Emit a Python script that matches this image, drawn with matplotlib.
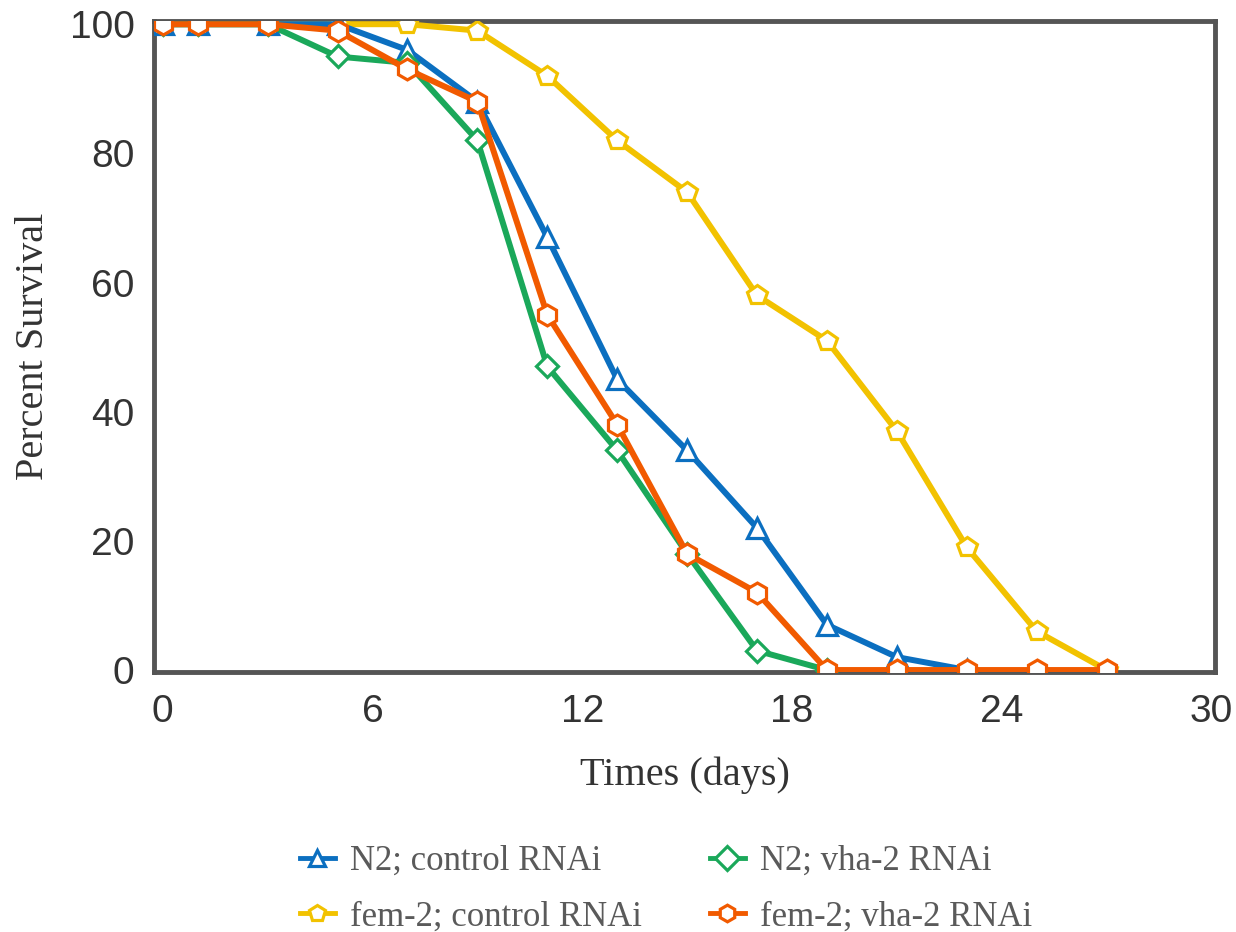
import matplotlib
matplotlib.use("Agg")
import matplotlib.pyplot as plt

# Survival data (percent alive) by day
days_n2_ctrl = [0, 1, 3, 5, 7, 9, 11, 13, 15, 17, 19, 21, 23]
n2_ctrl = [100, 100, 100, 100, 96, 88, 67, 45, 34, 22, 7, 2, 0]

days_n2_vha = [0, 1, 3, 5, 7, 9, 11, 13, 15, 17, 19]
n2_vha = [100, 100, 100, 95, 94, 82, 47, 34, 18, 3, 0]

days_fem_ctrl = [0, 1, 3, 5, 7, 9, 11, 13, 15, 17, 19, 21, 23, 25, 27]
fem_ctrl = [100, 100, 100, 100, 100, 99, 92, 82, 74, 58, 51, 37, 19, 6, 0]

days_fem_vha = [0, 1, 3, 5, 7, 9, 11, 13, 15, 17, 19, 21, 23, 25, 27]
fem_vha = [100, 100, 100, 99, 93, 88, 55, 38, 18, 12, 0, 0, 0, 0, 0]

labels = ["N2; control RNAi", "N2; vha-2 RNAi",
          "fem-2; control RNAi", "fem-2; vha-2 RNAi"]
x_ticks = [0, 6, 12, 18, 24, 30]
y_ticks = [0, 20, 40, 60, 80, 100]

BLUE = "#0b6fc0"
GREEN = "#1aa85a"
YELLOW = "#f2c200"
ORANGE = "#f15a00"

fig = plt.figure(figsize=(12.36, 9.32), dpi=100)
ax = fig.add_axes([0.1246, 0.279, 0.8584, 0.6985])

lw = 4.3
mew = 2.3
common = dict(lw=lw, mew=mew, mfc="white")

ax.plot(days_fem_ctrl, fem_ctrl, color=YELLOW, marker="p", ms=15, label=labels[2], zorder=3, **common)
ax.plot(days_n2_ctrl, n2_ctrl, color=BLUE, marker="^", ms=14, label=labels[0], zorder=4, **common)
ax.plot(days_n2_vha, n2_vha, color=GREEN, marker="D", ms=11, label=labels[1], zorder=5, **common)
ax.plot(days_fem_vha, fem_vha, color=ORANGE, marker="h", ms=15, label=labels[3], zorder=6, **common)

ax.set_xlim(-0.25, 30.1)
ax.set_ylim(-0.3, 100.5)
ax.set_xticks(x_ticks)
ax.set_yticks(y_ticks)
ax.tick_params(length=0, labelsize=28, colors="#333333")
ax.tick_params(axis="x", pad=16)
ax.tick_params(axis="y", pad=14)
for lab in ax.get_xticklabels() + ax.get_yticklabels():
    lab.set_family("Liberation Sans")

for s in ax.spines.values():
    s.set_color("#555555")
    s.set_linewidth(3.5)
    s.set_zorder(2)

ax.set_xlabel("Times (days)", family="Liberation Serif", fontsize=29,
              color="#333333", labelpad=19)
ax.set_ylabel("Percent Survival", family="Liberation Serif", fontsize=29,
              color="#333333", labelpad=13)

hmap = dict(zip(*ax.get_legend_handles_labels()[::-1]))
leg_order = [labels[0], labels[2], labels[1], labels[3]]
leg = fig.legend([hmap[l] for l in leg_order], leg_order,
                 ncol=2, loc="center", bbox_to_anchor=(0.539, 0.046),
                 frameon=False, handlelength=1.0, columnspacing=1.95,
                 labelspacing=0.65, handletextpad=0.45,
                 prop={"family": "Liberation Serif", "size": 25})
for t in leg.get_texts():
    t.set_color("#5a5a5a")
for h in leg.legend_handles:
    h.set_markersize(12)
    h.set_linewidth(3.5)

fig.savefig("out.png", dpi=100, facecolor="white")
